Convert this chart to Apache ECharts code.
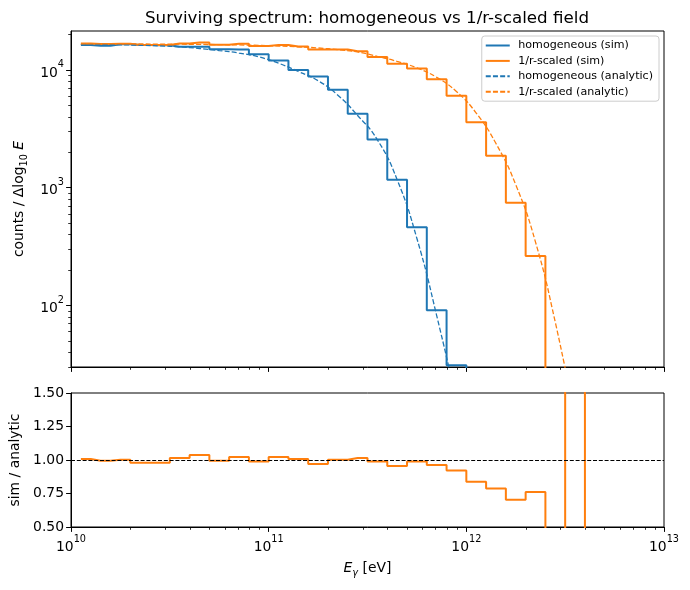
<!DOCTYPE html>
<html>
<head>
<meta charset="utf-8">
<script src="https://cdn.jsdelivr.net/npm/echarts@6/dist/echarts.min.js"></script>
<style>
  html, body { margin: 0; padding: 0; background: #fff; }
  #chart { width: 690px; height: 590px; }
</style>
</head>
<body>
<div id="chart"></div>
<script>
// bin centres in log10(E / eV), 10 bins per decade
var binLog = [10.05, 10.15, 10.25, 10.35, 10.45, 10.55, 10.65, 10.75, 10.85, 10.95,
  11.05, 11.15, 11.25, 11.35, 11.45, 11.55, 11.65, 11.75, 11.85, 11.95,
  12.05, 12.15, 12.25, 12.35, 12.45, 12.55, 12.65]

// counts / dlog10E ; last entry of each sim list is an empty bin (below the plot floor)
var homSim = [16300, 16050, 16500, 16300, 16200, 15750, 15700, 15000, 14900, 13600,
  12000, 10000, 8780, 6780, 4240, 2570, 1170, 461, 91, 31, 1]
var scaledSim = [16770, 16560, 16650, 16270, 16240, 16780, 17080, 16320, 16660, 15960,
  16300, 15810, 14890, 14880, 14410, 12890, 11270, 10280, 8330, 6030,
  3600, 1865, 745, 263, 1]
var homAna = [16500, 16450, 16350, 16200, 16000, 15700, 15200, 14600, 13900, 12900,
  11400, 9700, 8100, 6100, 4100, 2550, 1170, 370, 82, 15, 2.3]
var scaledAna = [16650, 16640, 16620, 16600, 16570, 16530, 16470, 16400, 16300, 16150,
  15950, 15700, 15350, 14850, 14200, 13050, 11800, 10400, 8650, 6550,
  4300, 2370, 1060, 345, 72, 11]
// sim / analytic for the 1/r-scaled field
var ratio = [1.007, 0.995, 1.002, 0.98, 0.98, 1.015, 1.037, 0.995, 1.022, 0.988,
  1.022, 1.007, 0.97, 1.002, 1.015, 0.988, 0.955, 0.988, 0.963, 0.921,
  0.837, 0.787, 0.703, 0.762, 0, 2.6, 0]

var majorX = [1e10, 1e11, 1e12, 1e13]
var majorY = [1e2, 1e3, 1e4]
var ratioTicks = [0.5, 0.75, 1.0, 1.25, 1.5]
var minorX = []
var minorY = []
for (var d = 10; d < 13; d++) {
  for (var m = 2; m < 10; m++) minorX.push(m * Math.pow(10, d))
}
for (var dy = 1; dy < 5; dy++) {
  for (var my = 2; my < 10; my++) {
    var v = my * Math.pow(10, dy)
    if (v >= 30 && v <= 21400) minorY.push(v)
  }
}

var FONT = 'DejaVu Sans'
var BLUE = '#1f77b4'
var ORANGE = '#ff7f0e'

function pairs (vals) {
  return vals.map(function (v, i) { return [Math.pow(10, binLog[i]), v] })
}

function powLabel (v) {
  return '{b|10}{e|' + Math.round(Math.log10(v)) + '}'
}

var powRich = {
  b: { fontSize: 13.9, fontFamily: FONT, color: '#000', lineHeight: 20, verticalAlign: 'bottom' },
  e: { fontSize: 9.7, fontFamily: FONT, color: '#000', verticalAlign: 'top' }
}

var tickStyle = { color: '#000', width: 1 }
var minorTickStyle = { color: '#000', width: 0.8 }

function majorXAxis (grid, withLabels) {
  return {
    type: 'log', logBase: 10, gridIndex: grid, min: 1e10, max: 1e13, position: 'bottom',
    splitLine: { show: false },
    axisLine: { show: true, lineStyle: { color: '#000', width: 1 } },
    axisTick: { show: true, customValues: majorX, length: 4.9, lineStyle: tickStyle },
    axisLabel: { show: withLabels, customValues: majorX, formatter: powLabel, rich: powRich, margin: 7 }
  }
}

function minorXAxis (grid) {
  return {
    type: 'log', logBase: 10, gridIndex: grid, min: 1e10, max: 1e13, position: 'bottom',
    splitLine: { show: false },
    axisLine: { show: false },
    axisTick: { show: true, customValues: minorX, length: 2.8, lineStyle: minorTickStyle },
    axisLabel: { show: false }
  }
}

var chart = echarts.init(document.getElementById('chart'))

chart.setOption({
  animation: false,
  backgroundColor: '#fff',
  title: {
    text: 'Surviving spectrum: homogeneous vs 1/r-scaled field',
    left: 362,
    textAlign: 'center',
    top: 5,
    textStyle: { fontFamily: FONT, fontSize: 16.7, fontWeight: 'normal', color: '#000' }
  },
  legend: {
    orient: 'vertical',
    right: 31,
    top: 36,
    data: ['homogeneous (sim)', '1/r-scaled (sim)', 'homogeneous (analytic)', '1/r-scaled (analytic)'],
    formatter: function (name) { return ' ' + name },
    itemWidth: 24,
    itemHeight: 11,
    itemGap: 4.4,
    padding: [4, 6, 4, 3],
    backgroundColor: 'rgba(255,255,255,0.8)',
    borderColor: '#cccccc',
    borderWidth: 1,
    borderRadius: 3,
    itemStyle: { color: 'rgba(0,0,0,0)', borderWidth: 0, opacity: 0 },
    textStyle: { fontFamily: FONT, fontSize: 11.1, color: '#000' }
  },
  grid: [
    { left: 71, top: 31, width: 593, height: 336, show: true, borderColor: '#000', borderWidth: 1 },
    { left: 71, top: 393, width: 593, height: 134, show: true, borderColor: '#000', borderWidth: 1 }
  ],
  xAxis: [
    majorXAxis(0, false),
    minorXAxis(0),
    Object.assign(majorXAxis(1, true), {
      name: '{i|E}{g|γ}{n| [eV]}',
      nameLocation: 'middle',
      nameGap: 34,
      nameTextStyle: {
        rich: {
          i: { fontFamily: FONT, fontSize: 13.9, fontStyle: 'italic', color: '#000', lineHeight: 17, verticalAlign: 'top' },
          g: { fontFamily: FONT, fontSize: 9.7, fontStyle: 'italic', color: '#000', lineHeight: 17, verticalAlign: 'bottom' },
          n: { fontFamily: FONT, fontSize: 13.9, color: '#000', lineHeight: 17, verticalAlign: 'top' }
        }
      }
    }),
    minorXAxis(1)
  ],
  yAxis: [
    {
      type: 'log', logBase: 10, gridIndex: 0, min: 30, max: 21400, position: 'left',
      splitLine: { show: false },
      axisLine: { show: true, lineStyle: { color: '#000', width: 1 } },
      axisTick: { show: true, customValues: majorY, length: 4.9, lineStyle: tickStyle },
      axisLabel: { customValues: majorY, formatter: powLabel, rich: powRich, margin: 7 },
      name: '{n|counts / Δlog}{s|10}{i| E}',
      nameLocation: 'middle',
      nameGap: 33,
      nameRotate: 90,
      nameTextStyle: {
        rich: {
          n: { fontFamily: FONT, fontSize: 13.9, color: '#000', lineHeight: 17, verticalAlign: 'top' },
          s: { fontFamily: FONT, fontSize: 9.7, color: '#000', lineHeight: 17, verticalAlign: 'bottom' },
          i: { fontFamily: FONT, fontSize: 13.9, fontStyle: 'italic', color: '#000', lineHeight: 17, verticalAlign: 'top' }
        }
      }
    },
    {
      type: 'log', logBase: 10, gridIndex: 0, min: 30, max: 21400, position: 'left',
      splitLine: { show: false },
      axisLine: { show: false },
      axisTick: { show: true, customValues: minorY, length: 2.8, lineStyle: minorTickStyle },
      axisLabel: { show: false }
    },
    {
      type: 'value', gridIndex: 1, min: 0.5, max: 1.5, interval: 0.25, position: 'left',
      splitLine: { show: false },
      axisLine: { show: true, lineStyle: { color: '#000', width: 1 } },
      axisTick: { show: true, length: 4.9, lineStyle: tickStyle },
      axisLabel: {
        fontFamily: FONT, fontSize: 13.9, color: '#000', margin: 7,
        customValues: ratioTicks,
        formatter: function (v) { return v.toFixed(2) }
      },
      name: 'sim / analytic',
      nameLocation: 'middle',
      nameGap: 46,
      nameRotate: 90,
      nameTextStyle: { fontFamily: FONT, fontSize: 13.9, color: '#000' }
    }
  ],
  series: [
    {
      name: 'homogeneous (sim)', type: 'line', step: 'middle', xAxisIndex: 0, yAxisIndex: 0,
      data: pairs(homSim), symbol: 'none', color: BLUE,
      lineStyle: { color: BLUE, width: 2 }
    },
    {
      name: '1/r-scaled (sim)', type: 'line', step: 'middle', xAxisIndex: 0, yAxisIndex: 0,
      data: pairs(scaledSim), symbol: 'none', color: ORANGE,
      lineStyle: { color: ORANGE, width: 2 }
    },
    {
      name: 'homogeneous (analytic)', type: 'line', smooth: 0.5, xAxisIndex: 0, yAxisIndex: 0,
      data: pairs(homAna), symbol: 'none', color: BLUE,
      lineStyle: { color: BLUE, width: 1.3, type: [5, 2.2] }
    },
    {
      name: '1/r-scaled (analytic)', type: 'line', smooth: 0.5, xAxisIndex: 0, yAxisIndex: 0,
      data: pairs(scaledAna), symbol: 'none', color: ORANGE,
      lineStyle: { color: ORANGE, width: 1.3, type: [5, 2.2] }
    },
    {
      name: 'ratio', type: 'line', step: 'middle', xAxisIndex: 2, yAxisIndex: 2,
      data: pairs(ratio), symbol: 'none', color: ORANGE,
      lineStyle: { color: ORANGE, width: 2 },
      markLine: {
        silent: true,
        symbol: 'none',
        label: { show: false },
        lineStyle: { color: '#000', width: 1, type: [4, 1.8] },
        data: [{ yAxis: 1 }]
      }
    }
  ]
})
</script>
</body>
</html>
